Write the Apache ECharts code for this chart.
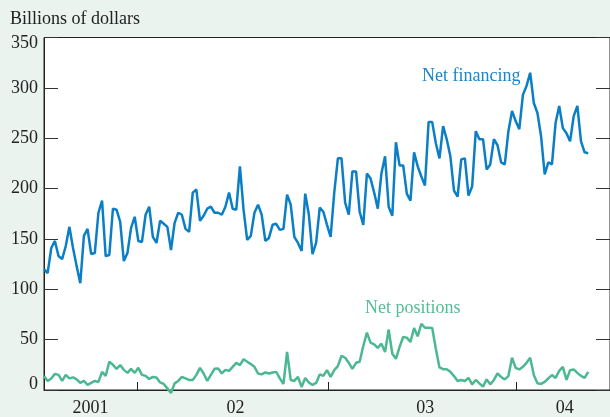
<!DOCTYPE html>
<html>
<head>
<meta charset="utf-8">
<script src="https://cdn.jsdelivr.net/npm/echarts@6/dist/echarts.min.js"></script>
<style>
html,body{margin:0;padding:0;background:#ebf3ef;}
#chart{width:610px;height:417px;}
</style>
</head>
<body>
<div id="chart"></div>
<script>
// Weekly observations, mid-2001 to mid-2004 (billions of dollars)
const netFinancing = [120,116,141,148,133,130,143,162,141,123,106,153,160,135,136,176,188,133,134,180,
179,167,128,136,161,172,148,147,174,182,152,146,168,165,162,139,166,176,174,160,
157,196,199,168,173,180,182,176,176,174,182,196,180,179,222,179,149,153,176,184,
174,148,151,164,165,159,160,194,184,152,146,138,195,174,135,146,181,177,164,152,
196,230,230,186,174,217,217,177,164,215,210,196,180,215,232,182,173,246,223,223,
195,188,236,222,212,203,266,266,245,230,262,249,232,198,192,229,230,193,202,257,
249,249,219,224,249,243,226,224,257,277,267,259,293,302,315,285,275,252,214,226,
224,265,282,260,255,247,272,282,247,236,235];
const netPositions = [14,9,11.5,16,15,9,15,11.5,12.5,10.5,7,9,5,7,9,8,18,14,28,25,
21,24.7,20,17,21,17,22,15,14,11,13,12.5,7.5,6,1.6,-3,6.6,9,13,11.5,
10,10,15,22,16.4,9,15,21,21.4,16.4,20,19,23,27,24.7,30.6,28,25.7,23,16.4,
15.5,17.4,16.4,17.4,18,11.5,6,37.8,10,9,13,3,12,7.5,5,7,15.5,14,19.7,13,
19.7,23.7,34,32,27,21,27,28,43.7,57,47,45.4,41.8,46,37.8,60,36,31,42.8,52.6,
52,47.7,61.5,53.3,65.8,61.8,61.8,61.5,41,22.4,20.7,20.7,18,13.8,9,10,9,12,5.6,10,
6.6,3.3,10.5,5.6,10,16.4,13,10.5,13.8,32,22,20.4,23,27,32,14.8,6.6,6,8,11.5,
14.8,12,19,23,10,19.7,20.4,17,14,12,18];
// year boundaries (in weeks from first observation) and year labels
const yearTickPos = [25.7, 78.4, 130.1];
const yearLabels = ['2001', '02', '03', '04'];
const yearLabelPos = [12.8, 52.8, 105.1, 143.5];

const FONT = 'Liberation Serif';
const BLUE = '#0b7fc5';
const GREEN = '#4cb891';

const chart = echarts.init(document.getElementById('chart'), null, {renderer: 'canvas'});
const fin = netFinancing.map((v, i) => [i, v]);
const pos = netPositions.map((v, i) => [i, v]);

chart.setOption({
  backgroundColor: '#ebf3ef',
  animation: false,
  title: {
    text: 'Billions of dollars',
    left: 10, top: 10, padding: 0,
    textStyle: {fontFamily: FONT, fontSize: 18, fontWeight: 'normal', color: '#222'}
  },
  grid: {
    left: 44, top: 37.5, width: 573, height: 354,
    show: true, backgroundColor: '#ffffff', borderColor: '#222', borderWidth: 1
  },
  xAxis: {
    type: 'value', min: 0, max: 156,
    axisLine: {show: true, lineStyle: {color: '#222', width: 1}},
    axisTick: {show: true, inside: true, length: 8, customValues: yearTickPos, lineStyle: {color: '#222'}},
    axisLabel: {
      show: true, margin: 9, customValues: yearLabelPos,
      fontFamily: FONT, fontSize: 18, color: '#222',
      formatter: function (v) {
        let best = 0;
        for (let k = 0; k < yearLabelPos.length; k++) {
          if (Math.abs(yearLabelPos[k] - v) < Math.abs(yearLabelPos[best] - v)) best = k;
        }
        return yearLabels[best];
      }
    },
    splitLine: {show: false}
  },
  yAxis: [{
    type: 'value', min: 0, max: 350, interval: 50, position: 'left',
    axisLine: {show: true, lineStyle: {color: '#222', width: 1}},
    axisTick: {show: true, inside: true, length: 14, lineStyle: {color: '#333'}},
    axisLabel: {
      margin: 6, fontFamily: FONT, fontSize: 18, color: '#222', lineHeight: 12,
      verticalAlignMaxLabel: 'top', verticalAlignMinLabel: 'bottom'
    },
    splitLine: {show: false}
  }, {
    type: 'value', min: 0, max: 350, interval: 50, position: 'right',
    axisLine: {show: true, lineStyle: {color: '#222', width: 1}},
    axisTick: {show: true, inside: true, length: 14, lineStyle: {color: '#333'}},
    axisLabel: {show: false},
    splitLine: {show: false}
  }],
  series: [{
    name: 'Net financing', type: 'line', data: fin, showSymbol: false, symbol: 'none',
    lineStyle: {color: BLUE, width: 2.5}, clip: false, z: 3
  }, {
    name: 'Net positions', type: 'line', data: pos, showSymbol: false, symbol: 'none',
    lineStyle: {color: GREEN, width: 2.5}, clip: false, z: 2
  }],
  graphic: [{
    type: 'text', left: 422, top: 67.5,
    style: {text: 'Net financing', fill: '#1a85c7', font: '18px "Liberation Serif"'}
  }, {
    type: 'text', left: 365, top: 299,
    style: {text: 'Net positions', fill: '#55bc96', font: '18px "Liberation Serif"'}
  }]
});
</script>
</body>
</html>
